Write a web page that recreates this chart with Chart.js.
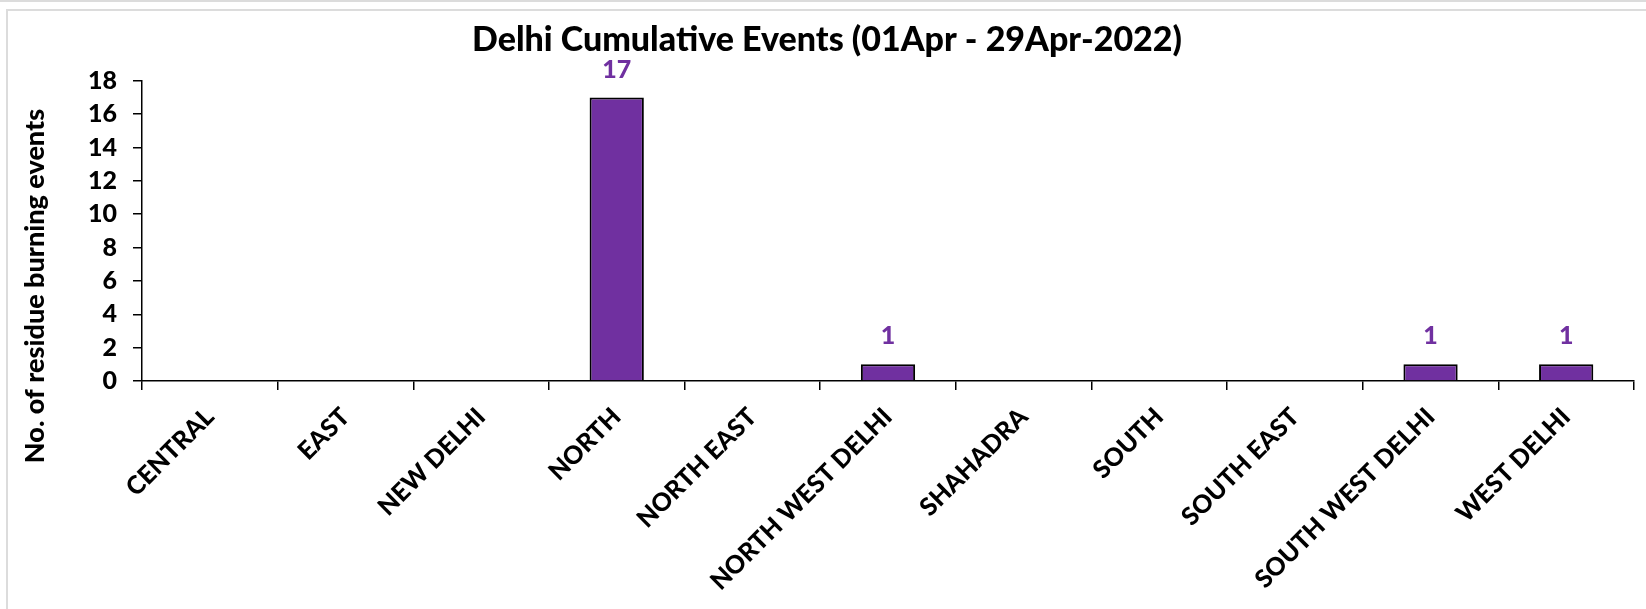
<!DOCTYPE html>
<html>
<head>
<meta charset="utf-8">
<title>Delhi Cumulative Events</title>
<script src="https://cdn.jsdelivr.net/npm/chart.js@4.4.1/dist/chart.umd.min.js"></script>
<style>
    html, body { margin: 0; padding: 0; background: #fff; }
    #page { position: relative; width: 1646px; height: 609px; overflow: hidden; }
    .topRule { position: absolute; left: 0; top: 0; width: 1646px; height: 2px; background: #dcdcdc; }
    .frame { position: absolute; left: 6px; top: 9px; width: 1660px; height: 620px; border-left: 2px solid #dcdcdc; border-top: 2px solid #dcdcdc; }
    #chartBox { position: absolute; left: 0; top: 0; width: 1646px; height: 609px; }
</style>
</head>
<body>
<div id="page">
    <div class="topRule"></div>
    <div class="frame"></div>
    <div id="chartBox"><canvas id="eventsChart"></canvas></div>
</div>
<script>
const districts = ["CENTRAL", "EAST", "NEW DELHI", "NORTH", "NORTH EAST", "NORTH WEST DELHI",
                   "SHAHADRA", "SOUTH", "SOUTH EAST", "SOUTH WEST DELHI", "WEST DELHI"];
const events = [0, 0, 0, 17, 0, 1, 0, 0, 0, 1, 1];
const yMax = 18;
const yStep = 2;

const FONT = "Lato, 'Open Sans', 'Liberation Sans', sans-serif";
const WEIGHT = "900";
const PURPLE = "#7030A0";

// value labels above the bars (zeros are left blank, as in the original)
const barValues = {
    id: "barValues",
    afterDatasetsDraw(chart) {
        const ctx = chart.ctx;
        const meta = chart.getDatasetMeta(0);
        ctx.save();
        ctx.font = WEIGHT + " 25px " + FONT;
        ctx.fillStyle = PURPLE;
        ctx.textAlign = "center";
        ctx.textBaseline = "middle";
        meta.data.forEach((bar, i) => {
            if (events[i] > 0) ctx.fillText(String(events[i]), bar.x, bar.y - 28);
        });
        ctx.restore();
    }
};

// y axis title sits a bit lower than the axis middle in the original
const yTitle = {
    id: "yTitle",
    afterDraw(chart) {
        const ctx = chart.ctx;
        ctx.save();
        ctx.translate(35, 286);
        ctx.rotate(-Math.PI / 2);
        ctx.font = WEIGHT + " 27px " + FONT;
        ctx.fillStyle = "#000";
        ctx.textAlign = "center";
        ctx.textBaseline = "middle";
        ctx.fillText("No. of residue burning events", 0, 0);
        ctx.restore();
    }
};

new Chart(document.getElementById("eventsChart"), {
    type: "bar",
    data: {
        labels: districts,
        datasets: [{
            label: "Events",
            data: events,
            backgroundColor: PURPLE,
            borderColor: "#000",
            borderWidth: 2,
            barPercentage: 0.4,
            categoryPercentage: 1.0
        }]
    },
    options: {
        responsive: true,
        maintainAspectRatio: false,
        animation: false,
        layout: { padding: { top: 14, left: 20, right: 12, bottom: 0 } },
        plugins: {
            legend: { display: false },
            tooltip: { enabled: false },
            title: {
                display: true,
                text: "Delhi Cumulative Events (01Apr - 29Apr-2022)",
                color: "#000",
                font: { family: FONT, size: 34, weight: WEIGHT },
                padding: { top: 6, bottom: 20 }
            }
        },
        scales: {
            x: {
                grid: { drawOnChartArea: false, offset: true, color: "#000", tickLength: 9, lineWidth: 1.5 },
                border: { color: "#000", width: 1.5 },
                ticks: {
                    color: "#000",
                    font: { family: FONT, size: 25, weight: WEIGHT },
                    minRotation: 45,
                    maxRotation: 45,
                    autoSkip: false,
                    padding: 12
                },
                afterFit: (s) => { s.height = 609 - 381; }
            },
            y: {
                min: 0,
                max: yMax,
                grid: { drawOnChartArea: false, color: "#000", tickLength: 9, lineWidth: 1.5 },
                border: { color: "#000", width: 1.5 },
                ticks: {
                    stepSize: yStep,
                    color: "#000",
                    font: { family: FONT, size: 25, weight: WEIGHT },
                    padding: 16
                },
                afterFit: (s) => { s.width = 142 - 20; }
            }
        }
    },
    plugins: [barValues, yTitle]
});
</script>
</body>
</html>
